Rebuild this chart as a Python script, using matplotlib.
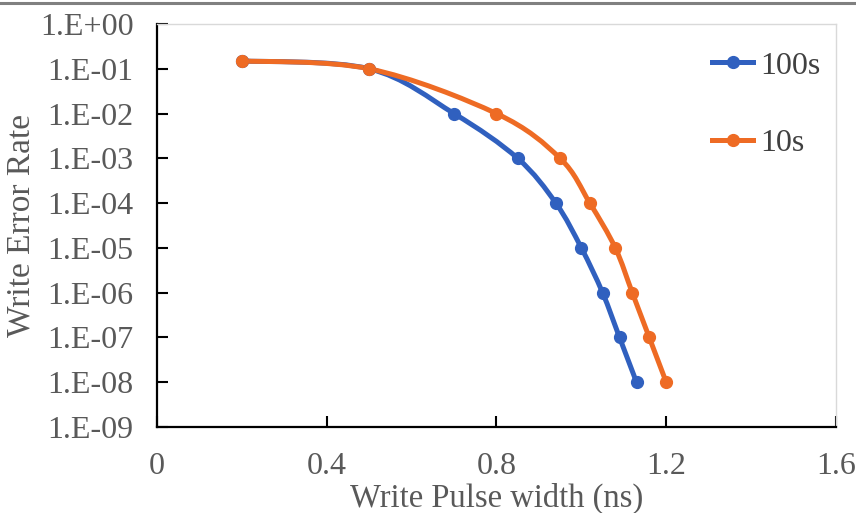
import numpy as np
import matplotlib
matplotlib.use("Agg")
import matplotlib.pyplot as plt
from matplotlib.path import Path
from matplotlib.patches import PathPatch
from matplotlib.lines import Line2D
from matplotlib.ticker import FixedLocator, FuncFormatter

# data
x_100s = [0.2, 0.5, 0.7, 0.85, 0.94, 1.0, 1.05, 1.09, 1.13]
wer_100s = [0.15, 1e-1, 1e-2, 1e-3, 1e-4, 1e-5, 1e-6, 1e-7, 1e-8]
x_10s = [0.2, 0.5, 0.8, 0.95, 1.02, 1.08, 1.12, 1.16, 1.2]
wer_10s = [0.15, 1e-1, 1e-2, 1e-3, 1e-4, 1e-5, 1e-6, 1e-7, 1e-8]

labels = ["100s", "10s"]
colors = ["#3060BF", "#EE6B24"]
x_ticks = [0, 0.4, 0.8, 1.2, 1.6]

plt.rcParams['font.family'] = ['Liberation Serif', 'DejaVu Serif']


def smooth_path(x, y):
    # Excel-like smoothed line: cubic Bezier through the points,
    # built in (x, log10 y) space and handed back in data coords
    p = np.column_stack([np.asarray(x, float), np.log10(y)])
    n = len(p)
    verts = [p[0]]
    codes = [Path.MOVETO]
    for i in range(n - 1):
        p0 = p[i - 1] if i > 0 else p[i]
        p1, p2 = p[i], p[i + 1]
        p3 = p[i + 2] if i + 2 < n else p[i + 1]
        c1 = p1 + (p2 - p0) / 6
        c2 = p2 - (p3 - p1) / 6
        verts += [c1, c2, p2]
        codes += [Path.CURVE4] * 3
    verts = np.array(verts)
    verts[:, 1] = 10 ** verts[:, 1]
    return Path(verts, codes)


fig = plt.figure(figsize=(8.56, 5.13), dpi=100)
ax = fig.add_axes([0.1834, 0.1676, 0.7932, 0.7856])

for xs, ys, c in zip([x_100s, x_10s], [wer_100s, wer_10s], colors):
    ax.add_patch(PathPatch(smooth_path(xs, ys), fc='none', ec=c, lw=3.6,
                           capstyle='round', joinstyle='round'))
    ax.plot(xs, ys, ls='none', marker='o', ms=8.5, color=c)

ax.set_yscale('log')
ax.set_ylim(1e-9, 1)
ax.set_xlim(0, 1.6)
ax.yaxis.set_major_locator(FixedLocator([10.0 ** k for k in range(-9, 1)]))
ax.yaxis.set_minor_locator(FixedLocator([]))
ax.yaxis.set_major_formatter(FuncFormatter(lambda v, pos: "1.E%+03d" % round(np.log10(v))))
ax.set_xticks(x_ticks)
ax.set_xticklabels(["0", "0.4", "0.8", "1.2", "1.6"])

ax.tick_params(axis='both', direction='in', length=8, width=1.5,
               labelsize=23, labelcolor='#595959', color='black')
ax.tick_params(axis='x', pad=18)
ax.tick_params(axis='y', pad=17)

for s in ['left', 'bottom']:
    ax.spines[s].set_linewidth(1.6)
    ax.spines[s].set_color('black')
for s in ['top', 'right']:
    ax.spines[s].set_linewidth(1)
    ax.spines[s].set_color('#D9D9D9')

ax.set_xlabel("Write Pulse width (ns)", fontsize=23.5, color='#595959', labelpad=1)
ax.set_ylabel("Write Error Rate", fontsize=24, color='#595959', labelpad=2)

handles = [Line2D([], [], color=c, lw=3.6, marker='o', ms=8.5) for c in colors]
ax.legend(handles, labels, loc='upper left', bbox_to_anchor=(0.775, 1.004),
          frameon=False, fontsize=23, labelcolor='#404040', handlelength=1.3,
          handletextpad=0.2, labelspacing=1.5)

# thin grey rule along the top of the image
fig.add_artist(Line2D([0, 1], [0.995, 0.995], transform=fig.transFigure,
                      color='#808080', lw=2.2))

fig.savefig("out.png", dpi=100)
